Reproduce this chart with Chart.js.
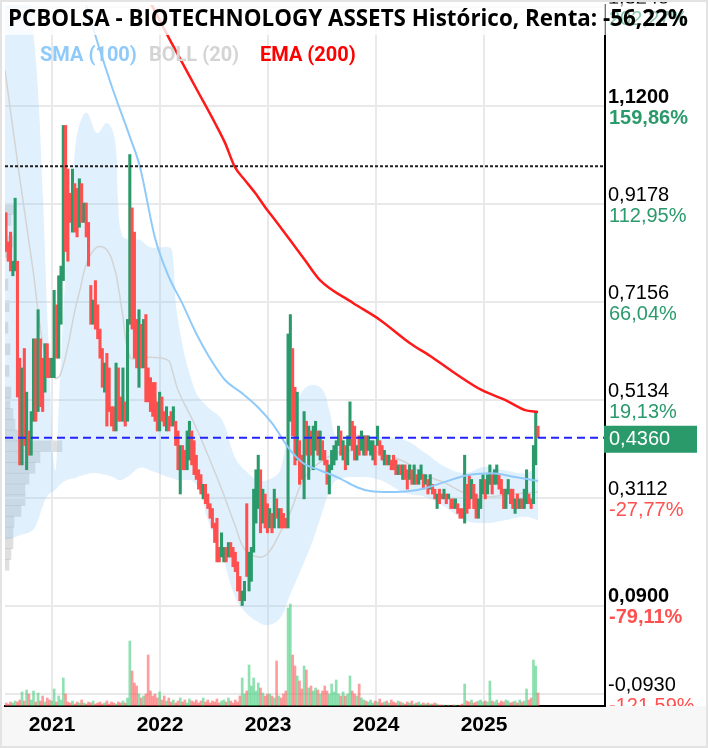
<!DOCTYPE html>
<html>
<head>
<meta charset="utf-8">
<script src="https://cdn.jsdelivr.net/npm/chart.js@4.4.1/dist/chart.umd.min.js"></script>
<style>
  html, body { margin: 0; padding: 0; background: #fff; }
  #wrap { width: 704px; height: 744px; border: 2px solid #e3e3e3; position: relative; background: #fff; }
  #wrap canvas { position: absolute; left: 0; top: 0; }
</style>
</head>
<body>
<div id="wrap"><canvas id="profile"></canvas><canvas id="chart"></canvas></div>
<script>
// ----- data -----
const titleText = 'PCBOLSA - BIOTECHNOLOGY ASSETS Histórico, Renta: -56,22%';

const yTicks = [1.324, 1.12, 0.9178, 0.7156, 0.5134, 0.3112, 0.09, -0.093];
const priceLabels = ['1,3240', '1,1200', '0,9178', '0,7156', '0,5134', '0,3112', '0,0900', '-0,0930'];
const pctLabels = ['202,27%', '159,86%', '112,95%', '66,04%', '19,13%', '-27,77%', '-79,11%', '-121,59%'];
const boldTicks = [1.12, 0.09];
const yearTicks = [2021, 2022, 2023, 2024, 2025];
const xRange = [2020.565, 2026.12];
const yRange = [-0.1171, 1.3283];

const lastPrice = 0.436;
const basePrice = 0.996;

// candles (roughly weekly), first and last date as decimal years
const candleStart = 2020.574;
const candleEnd = 2025.50;
const opens = [
  .90,.84,.86,.77,.78,.80,.60,.38,.62,.37,
  .45,.40,.47,.64,.49,.64,.60,.53,.63,.60,
  .56,.56,.71,.60,.67,.76,1.08,.99,.94,.86,
  .96,.95,.87,.96,.88,.92,.88,.75,.67,.76,
  .71,.66,.62,.53,.61,.58,.50,.50,.45,.58,
  .52,.47,.51,.47,.67,.91,.86,.68,
  .54,.67,.58,.69,.58,.56,.55,.55,.51,.45,
  .52,.49,.45,.48,.49,.46,.47,.45,.32,.42,
  .41,.37,.39,.45,.43,.40,.37,.36,.31,.34,
  .32,.30,.29,.26,.27,.21,.19,.18,.21,.19,
  .22,.21,.20,.18,.15,.09,.10,.30,.12,.14,
  .20,.26,.29,.37,.26,.32,.30,.25,
  .28,.25,.31,.25,.29,.28,.27,.25,.47,.62,
  .54,.39,.43,.40,.31,.47,.35,.45,.37,.41,
  .45,.39,.43,.41,.39,.32,.37,.38,.39,.42,
  .45,.39,.42,.38,.42,.47,.46,.39,.44,.41,
  .40,.44,.41,.40,.39,.42,.42,.43,.42,.38,
  .40,.38,.39,.40,.39,.36,.38,.35,.38,.37,
  .35,.37,.34,.36,.34,.35,.36,.34,.35,.33,
  .34,.33,.29,.33,.32,.31,.32,.31,.31,.31,
  .29,.30,.29,.29,.26,.34,.36,.31,.34,.32,
  .27,.29,.32,.35,.32,.34,.36,.34,.34,.36,
  .35,.33,.29,.32,.33,.33,.28,.32,.29,.31,
  .29,.30,.32,.31,.30,.38,.46
];
const closes = [
  .82,.80,.78,.80,.93,.52,.38,.58,.42,.53,
  .40,.49,.64,.47,.70,.50,.49,.63,.56,.56,
  .60,.74,.60,.77,.79,1.08,.82,.80,.88,.99,
  .86,.85,.97,.88,.92,.85,.79,.67,.72,.66,
  .64,.60,.54,.59,.46,.49,.46,.45,.59,.47,
  .47,.58,.46,.68,1.02,.66,.60,.58,
  .70,.58,.68,.51,.51,.49,.48,.47,.45,.53,
  .47,.46,.50,.45,.46,.50,.42,.37,.42,.37,
  .37,.45,.47,.38,.36,.35,.33,.32,.34,.30,
  .29,.27,.25,.22,.18,.18,.24,.21,.18,.22,
  .19,.17,.16,.12,.10,.12,.14,.15,.20,.21,
  .33,.37,.40,.24,.33,.25,.24,.29,
  .24,.33,.27,.29,.25,.25,.25,.65,.69,.44,
  .38,.53,.34,.35,.49,.40,.46,.40,.46,.47,
  .40,.45,.39,.38,.34,.38,.41,.42,.43,.46,
  .40,.43,.37,.44,.51,.41,.39,.42,.40,.45,
  .44,.40,.44,.43,.43,.38,.46,.40,.39,.41,
  .38,.40,.37,.37,.36,.38,.36,.38,.35,.33,
  .38,.34,.38,.34,.37,.38,.33,.36,.32,.36,
  .32,.31,.32,.30,.31,.33,.30,.32,.29,.29,
  .31,.28,.27,.27,.40,.28,.29,.35,.29,.27,
  .31,.35,.36,.31,.36,.38,.32,.37,.38,.33,
  .32,.29,.33,.35,.30,.29,.31,.29,.31,.29,
  .33,.37,.30,.29,.42,.49,.436
];
const volumes = [
  3,2,4,3,5,4,6,
  14,5,16,12,6,15,4,13,5,10,4,8,
  6,5,17,4,10,6,
  28,12,
  4,3,5,2,4,3,6,3,2,4,3,5,2,3,4,2,3,5,2,4,3,2,4,3,5,3,
  8,65,35,23,20,12,8,10,12,
  51,15,10,12,8,14,6,10,5,8,
  4,6,3,5,8,4,6,3,7,5,4,6,3,5,8,4,6,3,5,4,7,3,5,6,4,8,5,3,6,4,
  10,28,12,15,41,20,28,15,23,18,13,10,12,
  12,10,8,45,10,8,12,15,
  98,102,51,40,30,25,17,40,36,18,20,15,18,16,12,15,20,15,12,22,14,26,12,10,14,10,12,30,15,12,10,22,8,6,
  5,4,6,3,5,4,7,3,4,5,3,6,4,3,5,4,3,2,4,3,5,2,3,4,2,3,2,3,2,2,3,2,1,
  1,1,0,1,0,1,1,0,1,2,
  22,5,4,6,3,4,5,6,4,5,4,25,5,4,6,3,5,4,6,5,3,4,5,3,6,4,5,17,6,8,46,40,13
];

// SMA (100)
const smaTimes = [2021.259, 2021.444, 2021.565, 2021.722, 2021.815, 2021.954, 2022.083, 2022.204, 2022.333, 2022.454,
  2022.602, 2022.759, 2022.907, 2023.037, 2023.204, 2023.324, 2023.481, 2023.639, 2023.824, 2023.944,
  2024.130, 2024.315, 2024.454, 2024.639, 2024.852, 2025.074, 2025.287, 2025.500];
const smaValues = [1.369, 1.235, 1.153, 1.056, 0.994, 0.848, 0.767, 0.714, 0.652, 0.603,
  0.555, 0.528, 0.499, 0.466, 0.411, 0.384, 0.369, 0.355, 0.334, 0.326,
  0.324, 0.326, 0.332, 0.345, 0.359, 0.363, 0.355, 0.347];

// EMA (200)
const emaTimes = [2021.889, 2022.093, 2022.343, 2022.509, 2022.602, 2022.694, 2022.787, 2022.880, 2022.972, 2023.065,
  2023.204, 2023.343, 2023.481, 2023.787, 2024.037, 2024.315, 2024.519, 2024.731, 2024.981, 2025.194,
  2025.380, 2025.500];
const emaValues = [1.343, 1.256, 1.153, 1.085, 1.044, 0.994, 0.967, 0.941, 0.912, 0.885,
  0.844, 0.802, 0.761, 0.714, 0.679, 0.631, 0.602, 0.569, 0.534, 0.514,
  0.493, 0.489];

// BOLL (20)
const bollTimes = [2020.565, 2020.704, 2020.824, 2020.870, 2020.917, 2020.963, 2021.028, 2021.074, 2021.139, 2021.213,
  2021.259, 2021.324, 2021.417, 2021.509, 2021.583, 2021.611, 2021.648, 2021.722, 2021.815, 2021.907,
  2022.074, 2022.111, 2022.167, 2022.324, 2022.444, 2022.574, 2022.694, 2022.787, 2022.907, 2023.000,
  2023.111, 2023.204, 2023.324, 2023.417, 2023.509, 2023.574, 2023.639, 2023.824, 2024.037, 2024.269,
  2024.454, 2024.639, 2024.824, 2025.009, 2025.194, 2025.380, 2025.500];
const bollUpper = [1.545, 1.504, 1.277, 1.153, 0.926, 0.658, 0.369, 0.555, 0.823, 1.029,
  1.085, 1.106, 1.064, 1.085, 1.050, 0.926, 0.854, 0.844, 0.844, 0.829,
  0.829, 0.823, 0.679, 0.534, 0.499, 0.473, 0.396, 0.369, 0.349, 0.349,
  0.369, 0.473, 0.534, 0.545, 0.534, 0.487, 0.438, 0.442, 0.438, 0.431,
  0.405, 0.376, 0.363, 0.376, 0.369, 0.363, 0.376];
const bollMid = [1.194, 0.967, 0.782, 0.699, 0.627, 0.586, 0.559, 0.565, 0.617, 0.699,
  0.741, 0.798, 0.829, 0.823, 0.782, 0.751, 0.699, 0.602, 0.600, 0.602,
  0.596, 0.576, 0.534, 0.462, 0.400, 0.328, 0.256, 0.205, 0.190, 0.198,
  0.240, 0.281, 0.349, 0.374, 0.390, 0.398, 0.405, 0.411, 0.405, 0.386,
  0.359, 0.343, 0.322, 0.314, 0.318, 0.322, 0.324];
const bollLower = [0.225, 0.235, 0.246, 0.266, 0.297, 0.318, 0.328, 0.339, 0.349, 0.353,
  0.357, 0.361, 0.363, 0.359, 0.353, 0.349, 0.349, 0.359, 0.374, 0.369,
  0.355, 0.353, 0.349, 0.343, 0.266, 0.194, 0.108, 0.077, 0.056, 0.050,
  0.064, 0.112, 0.174, 0.225, 0.287, 0.328, 0.349, 0.355, 0.349, 0.322,
  0.314, 0.293, 0.266, 0.260, 0.266, 0.273, 0.266];

// volume by price (left edge)
const vpPrices = [0.945, 0.92, 0.87, 0.845, 0.77, 0.72, 0.67, 0.62, 0.57, 0.52, 0.495, 0.47, 0.445,
  0.42, 0.395, 0.37, 0.345, 0.32, 0.295, 0.27, 0.245, 0.22, 0.195, 0.17, 0.145, 0.12];
const vpSizes = [10, 6, 8, 5, 3, 4, 3, 5, 4, 6, 5, 8, 10, 14, 57, 35, 30, 24, 20, 20, 16, 9, 8, 8, 6, 4];

// ----- colours -----
const upColor = '#2a9a6b';
const downColor = '#ff4f4f';
const upVol = 'rgba(70, 205, 125, 0.6)';
const downVol = 'rgba(255, 90, 90, 0.6)';
const labelFont = '"Liberation Sans", Arial, sans-serif';

const step = (candleEnd - candleStart) / (opens.length - 1);
const candleTimes = opens.map((_, i) => candleStart + i * step);
const isUp = opens.map((o, i) => closes[i] >= o);
const pts = (xs, ys) => xs.map((x, i) => ({ x: x, y: ys[i] }));

// same plot box for both canvases
const plotPadding = { left: 3, top: 3, right: 101, bottom: 40 };

// ----- volume profile, drawn under the main chart -----
new Chart(document.getElementById('profile').getContext('2d'), {
    type: 'bar',
    data: {
        datasets: [{
            data: pts(vpSizes, vpPrices),
            backgroundColor: 'rgba(175, 175, 175, 0.4)',
            barThickness: 11
        }]
    },
    options: {
        indexAxis: 'y',
        responsive: true,
        maintainAspectRatio: false,
        animation: false,
        layout: { padding: plotPadding, autoPadding: false },
        plugins: { legend: { display: false }, tooltip: { enabled: false } },
        scales: {
            x: { type: 'linear', display: false, min: 0, max: 600 },
            y: { type: 'linear', display: false, min: yRange[0], max: yRange[1] }
        }
    }
});

// overlay: bottom strip, percent labels, last price box, legend, title
const overlayPlugin = {
    id: 'overlay',
    beforeDraw(chart) {
        const { ctx, chartArea } = chart;
        ctx.save();
        ctx.fillStyle = '#f7f7f7';
        ctx.fillRect(0, chartArea.bottom, chart.width, chart.height - chartArea.bottom);
        ctx.fillStyle = '#fff';
        ctx.fillRect(chartArea.right, 0, chart.width - chartArea.right, chartArea.bottom);
        ctx.restore();
    },
    afterDraw(chart) {
        const { ctx, chartArea, scales } = chart;
        const ys = scales.y;
        ctx.save();
        ctx.beginPath();
        ctx.rect(chartArea.right, 0, chart.width - chartArea.right, chartArea.bottom);
        ctx.clip();
        ctx.textAlign = 'left';
        ctx.textBaseline = 'middle';
        yTicks.forEach(function (v, i) {
            const py = ys.getPixelForValue(v);
            ctx.font = (boldTicks.includes(v) ? 'bold ' : '') + '20px ' + labelFont;
            ctx.fillStyle = pctLabels[i].charAt(0) === '-' ? downColor : upColor;
            ctx.fillText(pctLabels[i], chartArea.right + 4, py + 12);
        });
        ctx.restore();

        ctx.save();
        // current price tag
        const lp = ys.getPixelForValue(lastPrice);
        ctx.fillStyle = upColor;
        ctx.fillRect(chartArea.right - 1, lp - 12, 93, 27);
        ctx.fillStyle = '#fff';
        ctx.textAlign = 'left';
        ctx.textBaseline = 'middle';
        ctx.font = '20px ' + labelFont;
        ctx.fillText(lastPrice.toFixed(4).replace('.', ','), chartArea.right + 4, lp + 2);

        // legend
        ctx.textBaseline = 'alphabetic';
        ctx.font = 'bold 20px Roboto, sans-serif';
        [['SMA (100)', '#90caf9', 38], ['BOLL (20)', '#d4d4d4', 147], ['EMA (200)', '#ff0000', 258]].forEach(function (it) {
            ctx.fillStyle = it[1];
            ctx.fillText(it[0], it[2], 59);
        });

        // title bar: opaque-ish over the plot, lighter over the right labels
        ctx.fillStyle = 'rgba(255,255,255,0.8)';
        ctx.fillRect(3, 1, chartArea.right - 3, 32);
        ctx.fillStyle = 'rgba(255,255,255,0.45)';
        ctx.fillRect(chartArea.right, 1, chart.width - chartArea.right - 2, 32);
        ctx.fillStyle = '#000';
        ctx.font = 'bold 23px "Open Sans", sans-serif';
        ctx.textBaseline = 'middle';
        ctx.fillText(titleText, 6, 17, 680);
        ctx.restore();
    }
};

const ctx = document.getElementById('chart').getContext('2d');
new Chart(ctx, {
    type: 'bar',
    data: {
        datasets: [
            {
                type: 'line', label: 'BOLL up', data: pts(bollTimes, bollUpper),
                borderWidth: 0, pointRadius: 0, tension: 0.4,
                fill: '+1', backgroundColor: 'rgba(144, 202, 249, 0.28)', order: 20
            },
            {
                type: 'line', label: 'BOLL low', data: pts(bollTimes, bollLower),
                borderWidth: 0, pointRadius: 0, tension: 0.4, fill: false, order: 20
            },
            {
                type: 'line', label: 'BOLL mid', data: pts(bollTimes, bollMid),
                borderColor: '#d4d4d4', borderWidth: 1.5, pointRadius: 0, tension: 0.4, order: 15
            },
            {
                type: 'bar', label: 'Volume', yAxisID: 'yv', data: pts(candleTimes, volumes),
                backgroundColor: isUp.map(u => u ? upVol : downVol),
                barThickness: 2, grouped: false, order: 16
            },
            {
                type: 'bar', label: 'Precio', data: candleTimes.map((t, i) => ({ x: t, y: [opens[i], closes[i]] })),
                backgroundColor: isUp.map(u => u ? upColor : downColor),
                barThickness: 2.4, minBarLength: 1, grouped: false, order: 10
            },
            {
                type: 'line', label: 'SMA (100)', data: pts(smaTimes, smaValues),
                borderColor: '#90caf9', borderWidth: 2, pointRadius: 0, cubicInterpolationMode: 'monotone', order: 5
            },
            {
                type: 'line', label: 'EMA (200)', data: pts(emaTimes, emaValues),
                borderColor: '#ff1a1a', borderWidth: 2.5, pointRadius: 0, cubicInterpolationMode: 'monotone', order: 4
            },
            {
                type: 'line', label: 'base', data: pts(xRange, [basePrice, basePrice]),
                borderColor: '#222', borderWidth: 2, borderDash: [3, 2], pointRadius: 0, order: 3
            },
            {
                type: 'line', label: 'last', data: pts(xRange, [lastPrice, lastPrice]),
                borderColor: '#2323ff', borderWidth: 2, borderDash: [8, 5], pointRadius: 0, order: 2
            }
        ]
    },
    options: {
        responsive: true,
        maintainAspectRatio: false,
        animation: false,
        layout: { padding: { left: 3, top: 3, right: 0, bottom: 0 }, autoPadding: false },
        plugins: { legend: { display: false }, tooltip: { enabled: false } },
        scales: {
            x: {
                type: 'linear', min: xRange[0], max: xRange[1], offset: false,
                afterBuildTicks: function (s) { s.ticks = yearTicks.map(v => ({ value: v })); },
                afterFit: function (s) { s.height = 40; s.paddingLeft = 0; s.paddingRight = 0; },
                grid: { color: '#e9e9e9', lineWidth: 2, drawTicks: false, offset: false },
                border: { color: '#000', width: 2 },
                ticks: {
                    color: '#000', padding: 7, maxRotation: 0, autoSkip: false,
                    font: { family: labelFont, size: 21, weight: 'bold' },
                    callback: v => String(v)
                }
            },
            y: {
                type: 'linear', position: 'right', min: yRange[0], max: yRange[1],
                afterBuildTicks: function (s) { s.ticks = yTicks.map(v => ({ value: v })); },
                afterFit: function (s) { s.width = 101; s.paddingTop = 0; s.paddingBottom = 0; },
                grid: { color: '#e9e9e9', lineWidth: 2, drawTicks: false },
                border: { color: '#000', width: 2 },
                ticks: {
                    color: '#000', padding: 3, crossAlign: 'near', autoSkip: false,
                    font: function (c) {
                        const b = c.tick && boldTicks.includes(c.tick.value);
                        return { family: labelFont, size: 20, weight: b ? 'bold' : 'normal', lineHeight: 0.9 };
                    },
                    callback: (v, i) => [priceLabels[i], '']
                }
            },
            yv: { type: 'linear', display: false, min: 0, max: 701 }
        }
    },
    plugins: [overlayPlugin]
});
</script>
</body>
</html>
